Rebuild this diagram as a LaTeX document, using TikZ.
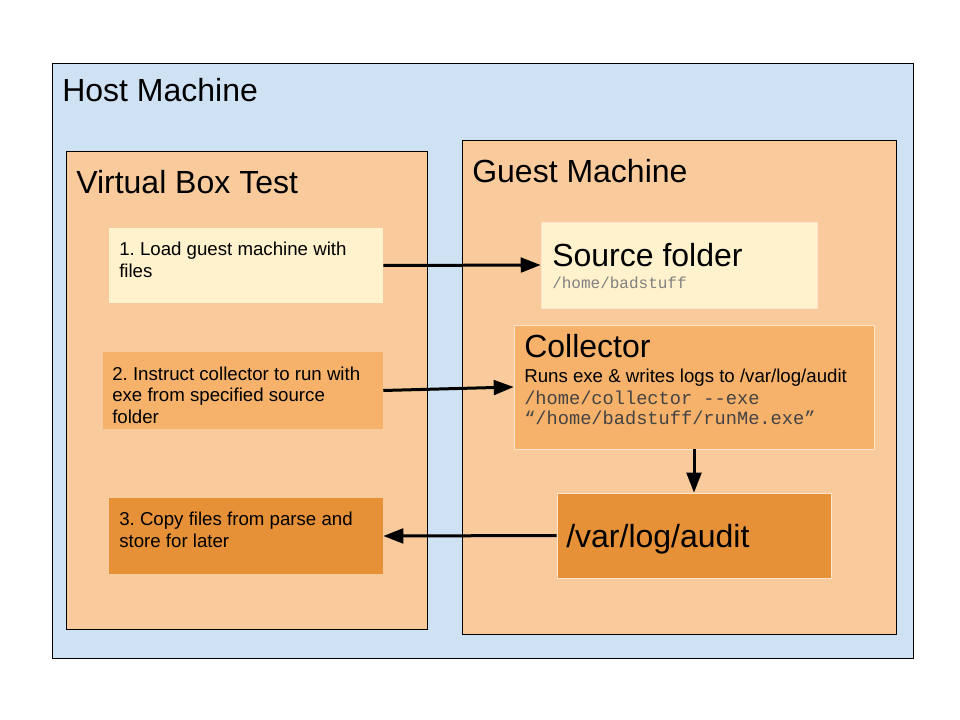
\documentclass[tikz,border=0pt]{standalone}
\usepackage{fontspec}
\setmainfont{Liberation Sans}
\setmonofont{Liberation Mono}
\usetikzlibrary{arrows.meta,fit}
\frenchspacing

\definecolor{hostblue}{HTML}{CFE2F3}
\definecolor{peach}{HTML}{F9CB9C}
\definecolor{cream}{HTML}{FFF2CC}
\definecolor{apricot}{HTML}{F6B26B}
\definecolor{amber}{HTML}{E69138}
\definecolor{rim}{HTML}{FCE5CD}
\definecolor{codegray}{HTML}{434343}

\begin{document}
\begin{tikzpicture}[x=0.75pt,y=-0.75pt,
    frame/.style={draw=black,line width=0.75pt,inner sep=0pt},
    step box/.style={inner sep=0pt},
    title/.style={anchor=base west,inner sep=0pt,font=\fontsize{24}{28}\selectfont},
    body/.style={anchor=base west,inner sep=0pt,align=left,font=\fontsize{14}{16.1}\selectfont},
    code/.style={anchor=base west,inner sep=0pt,align=left,text=codegray,font=\ttfamily\fontsize{14}{15}\selectfont},
    link/.style={-{Triangle[length=15pt,width=11pt]},line width=2.25pt}]

  \useasboundingbox (0,0) rectangle (960,720);

  % outer boxes
  \node[frame,fill=hostblue,fit={(52,64) (913,658)}] (host) {};
  \node[title] (hosttitle) at (62,102) {Host Machine};

  \node[frame,fill=peach,fit={(66,152) (427,629)}] (vbox) {};
  \node[title] (vboxtitle) at (76,194) {Virtual Box Test};

  \node[frame,fill=peach,fit={(462,141) (896,634)}] (guest) {};
  \node[title] (guesttitle) at (472,183) {Guest Machine};

  % steps on the virtual box side (base = last line)
  \node[step box,fill=cream,fit={(109,228) (383,303)}] (load) {};
  \node[body] (loadtext) at (119,277) {1. Load guest machine with\\files};

  \node[step box,fill=apricot,fit={(103,352) (383,429)}] (instruct) {};
  \node[body] (instructtext) at (112,423) {2. Instruct collector to run with\\exe from specified source\\folder};

  \node[step box,fill=amber,fit={(109,498) (383,574)}] (copy) {};
  \node[body] (copytext) at (119,547) {3. Copy files from parse and\\store for later};

  % guest machine side
  \node[step box,draw=rim,fill=cream,fit={(541,222) (817,308)}] (source) {};
  \node[title] (sourcetitle) at (552,267) {Source folder};
  \node[code,font=\ttfamily\fontsize{12}{14}\selectfont,text=gray] (sourcepath) at (552,289) {/home/badstuff};

  \node[step box,draw=rim,fill=apricot,fit={(514,325) (874,449)}] (collector) {};
  \node[title] (collectortitle) at (524,357) {Collector};
  \node[body] (collectornote) at (524,382) {Runs exe \& writes logs to /var/log/audit};
  \node[code] (collectorcmd) at (524,424) {/home/collector --exe\\“/home/badstuff/runMe.exe”};

  \node[step box,draw=rim,fill=amber,fit={(557,493) (831,578)}] (audit) {};
  \node[title] (audittitle) at (566,547) {/var/log/audit};

  % arrows
  \draw[link] (load.east) -- (source.west);
  \draw[link] (instruct.east) -- (collector.west);
  \draw[link] (collector.south) -- (audit.north);
  \draw[link] (audit.west) -- (copy.east);
\end{tikzpicture}
\end{document}
